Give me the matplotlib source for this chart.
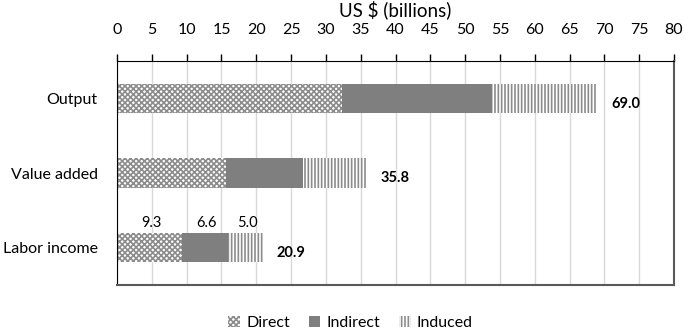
import matplotlib
matplotlib.use("Agg")
from matplotlib import pyplot as plt
from matplotlib.patches import Patch

plt.rcParams['font.family'] = ['Lato', 'DejaVu Sans']
plt.rcParams['hatch.linewidth'] = 1.2

categories = ["Output", "Value added", "Labor income"]
direct = [32.3, 15.6, 9.3]
indirect = [21.6, 11.1, 6.6]
induced = [15.1, 9.1, 5.0]
totals = [69.0, 35.8, 20.9]
labor_labels = ["9.3", "6.6", "5.0"]

fig = plt.figure(figsize=(6.85, 3.32), dpi=100)
ax = fig.add_axes([0.1708, 0.1416, 0.8132, 0.6744])

ys = list(range(len(categories)))
h = 0.39
left2 = [d + i for d, i in zip(direct, indirect)]

ax.barh(ys, direct, height=h, color='white', edgecolor='#8c8c8c', hatch='xxxxxx', linewidth=0, zorder=2)
ax.barh(ys, indirect, left=direct, height=h, color='#7f7f7f', linewidth=0, zorder=2)
ax.barh(ys, induced, left=left2, height=h, color='white', edgecolor='#8c8c8c', hatch='|||||', linewidth=0, zorder=2)

for y, t in zip(ys, totals):
    ax.text(t + 2.0, y + 0.07, "%.1f" % t, ha='left', va='center', fontsize=10.5, fontweight='bold')

# labor income segment labels above the bar
lab_y = 2
starts = [0, direct[2], left2[2]]
widths = [direct[2], indirect[2], induced[2]]
for s, w, txt in zip(starts, widths, labor_labels):
    ax.text(s + w / 2 + 0.3, lab_y - 0.33, txt, ha='center', va='center', fontsize=10.5)

ax.set_xlim(0, 80)
ax.set_ylim(2.5, -0.5)
ax.set_xticks(range(0, 81, 5))
ax.xaxis.tick_top()
ax.xaxis.set_label_position('top')
ax.set_xlabel("US $ (billions)", fontsize=13.5, labelpad=5)
ax.tick_params(axis='x', direction='out', length=5, width=1, labelsize=11.5, pad=12)
ax.set_yticks(ys)
ax.set_yticklabels(categories, fontsize=11.5)
ax.tick_params(axis='y', length=0, pad=14)

ax.grid(axis='x', color='#d9d9d9', linewidth=1, zorder=0)
ax.set_axisbelow(True)
ax.spines['left'].set_color('black')
ax.spines['top'].set_color('black')
ax.spines['right'].set_color('#595959')
ax.spines['bottom'].set_color('#595959')
ax.spines['right'].set_linewidth(1.5)
ax.spines['bottom'].set_linewidth(1.5)

handles = [
    Patch(facecolor='white', edgecolor='#8c8c8c', hatch='xxxxxx', linewidth=0),
    Patch(facecolor='#7f7f7f', linewidth=0),
    Patch(facecolor='white', edgecolor='#8c8c8c', hatch='|||||', linewidth=0),
]
fig.legend(handles, ["Direct", "Indirect", "Induced"], loc='center', bbox_to_anchor=(0.512, 0.027),
           ncol=3, frameon=False, fontsize=11.5, handlelength=0.7, handleheight=0.7,
           handletextpad=0.4, columnspacing=1.2)

fig.savefig("out.png", dpi=100)
